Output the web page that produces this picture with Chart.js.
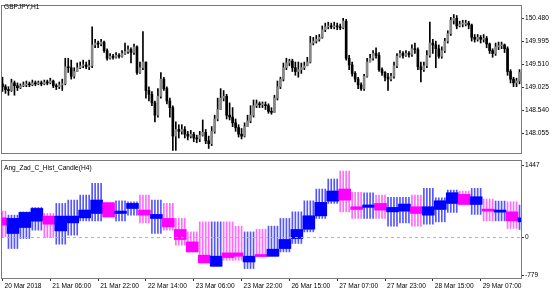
<!DOCTYPE html>
<html>
<head>
<meta charset="utf-8">
<script src="https://cdn.jsdelivr.net/npm/chart.js@4.4.0/dist/chart.umd.min.js"></script>
<style>
  body { margin:0; background:#fff; }
  #wrap { position:relative; width:560px; height:294px; overflow:hidden; }
  canvas { position:absolute; left:0; }
  .ttl { position:absolute; left:4px; font:6.6px 'Liberation Sans', Arial, sans-serif; line-height:8px; color:#000; z-index:2; }
</style>
</head>
<body>
<div id="wrap">
  <canvas id="price" width="560" height="158" style="top:0;width:560px;height:158px"></canvas>
  <canvas id="osc" width="560" height="136" style="top:158px;width:560px;height:136px"></canvas>
  <div class="ttl" style="top:3px">GBPJPY,H1</div>
  <div class="ttl" style="top:164px">Ang_Zad_C_Hist_Candle(H4)</div>
</div>
<script>
// GBPJPY H1, 20 Mar 14:00 -> 29 Mar 20:00
const tickLabels = ['20 Mar 2018','21 Mar 06:00','21 Mar 22:00','22 Mar 14:00','23 Mar 06:00','23 Mar 22:00',
  '26 Mar 15:00','27 Mar 07:00','27 Mar 23:00','28 Mar 15:00','29 Mar 07:00'];
const priceTicks = [148.055, 148.540, 149.025, 149.510, 149.995, 150.480];
const indTicks = [-779, 0, 1447];

const opens = [149.10,
  149.04,148.98,148.96,149.12,149.06,149.02,149.06,149.08,149.10,149.08,
  149.12,149.10,149.12,149.10,149.14,149.12,149.16,149.06,149.04,149.08,
  149.10,149.46,149.44,149.26,149.36,149.44,149.48,149.50,149.46,149.48,
  149.92,149.96,149.94,149.98,149.80,149.64,149.68,149.66,149.70,149.68,
  149.74,149.78,149.82,149.76,149.88,149.34,149.44,149.56,148.96,148.88,
  148.70,148.44,148.84,149.20,149.00,148.74,148.60,148.00,148.14,148.10,
  148.14,148.04,148.00,148.04,147.96,147.94,148.02,148.08,147.90,147.84,
  148.10,148.36,148.56,148.80,148.84,148.44,148.40,148.28,148.18,148.04,
  148.00,148.20,148.32,148.44,148.64,148.68,148.66,148.66,148.64,148.52,148.50,
  148.80,149.04,149.20,149.44,149.54,149.58,149.44,149.36,149.40,149.44,
  149.48,149.56,149.96,150.00,150.04,150.08,150.24,150.30,150.32,150.30,
  150.32,150.30,150.28,150.42,149.64,149.50,149.32,149.20,149.08,149.00,
  149.26,149.56,149.64,149.74,149.70,149.40,149.34,149.24,149.20,149.26,
  149.48,149.68,149.74,149.70,149.74,149.72,149.84,149.82,149.46,149.40,
  149.48,149.70,149.96,149.92,149.84,149.68,149.80,150.00,150.16,150.44,
  150.48,150.32,150.36,150.36,150.38,150.34,150.08,150.04,150.08,150.04,
  150.06,149.94,149.80,149.74,149.88,149.90,149.92,149.84,149.36,149.20,
  149.12,149.16];
const highs = [
  149.24,149.08,149.04,149.20,149.16,149.12,149.10,149.14,149.16,149.14,
  149.18,149.16,149.16,149.16,149.18,149.18,149.22,149.18,149.10,149.14,
  149.20,149.64,149.64,149.60,149.44,149.54,149.56,149.60,149.56,149.60,
  150.30,150.04,150.00,150.04,150.00,149.84,149.74,149.72,149.76,149.74,
  149.80,149.96,149.90,149.86,149.94,149.90,149.56,150.20,149.56,149.04,
  148.94,148.74,149.00,149.34,149.24,149.04,148.80,148.64,148.30,148.24,
  148.24,148.20,148.10,148.12,148.08,148.02,148.10,148.34,148.14,148.00,
  148.20,148.44,148.80,149.00,148.96,148.88,148.70,148.60,148.36,148.24,
  148.16,148.28,148.44,148.64,148.76,148.76,148.72,148.72,148.72,148.68,148.60,
  148.86,149.16,149.24,149.54,149.64,149.62,149.62,149.56,149.56,149.54,
  149.56,149.66,150.10,150.08,150.12,150.14,150.32,150.38,150.40,150.38,
  150.40,150.38,150.36,150.48,150.46,149.70,149.56,149.36,149.24,149.12,
  149.30,149.64,149.72,149.80,149.86,149.76,149.44,149.36,149.32,149.32,
  149.56,149.74,149.80,149.78,149.80,149.78,149.92,149.96,149.86,149.56,
  149.56,149.80,150.40,150.04,150.00,149.92,149.88,150.06,150.22,150.50,
  150.56,150.54,150.42,150.44,150.44,150.42,150.36,150.14,150.14,150.12,
  150.14,150.10,149.96,149.84,149.96,149.98,149.98,149.94,149.88,149.40,
  149.24,149.22,149.40];
const lows = [
  148.94,148.90,148.86,148.94,148.86,148.96,149.00,149.04,149.04,149.04,
  149.06,149.06,149.08,149.06,149.08,149.08,149.10,149.02,148.98,149.00,
  148.96,149.08,149.34,149.20,149.22,149.36,149.42,149.44,149.42,149.40,
  149.44,149.86,149.86,149.90,149.76,149.60,149.62,149.62,149.64,149.64,
  149.66,149.72,149.74,149.54,149.72,149.30,149.32,149.40,148.80,148.74,
  148.64,148.30,148.40,148.80,148.96,148.68,148.40,147.70,147.70,147.96,
  148.04,147.96,147.92,147.96,147.88,147.86,147.88,148.00,147.84,147.74,
  147.80,148.06,148.32,148.56,148.74,148.36,148.34,148.20,148.10,147.98,
  147.94,147.98,148.20,148.28,148.40,148.60,148.60,148.60,148.56,148.48,148.46,
  148.50,148.76,149.00,149.16,149.40,149.48,149.36,149.28,149.24,149.32,
  149.40,149.48,149.54,149.92,149.96,150.00,150.06,150.20,150.26,150.26,
  150.26,150.24,150.24,150.26,149.60,149.40,149.26,149.14,149.00,148.96,
  148.96,149.24,149.56,149.60,149.64,149.36,149.28,149.16,148.96,149.16,
  149.22,149.44,149.66,149.64,149.68,149.66,149.68,149.74,149.40,149.14,
  149.36,149.44,149.66,149.74,149.44,149.64,149.64,149.76,149.96,150.12,
  150.36,150.26,150.30,150.30,150.32,150.26,150.00,149.98,150.00,149.96,
  149.98,149.86,149.74,149.66,149.70,149.82,149.84,149.76,149.28,149.12,
  149.04,149.04,149.10];
const closes = [
  149.04,148.98,148.96,149.12,149.06,149.02,149.06,149.08,149.10,149.08,
  149.12,149.10,149.12,149.10,149.14,149.12,149.16,149.06,149.04,149.08,
  149.10,149.46,149.44,149.26,149.36,149.44,149.48,149.50,149.46,149.48,
  149.92,149.96,149.94,149.98,149.80,149.64,149.68,149.66,149.70,149.68,
  149.74,149.78,149.82,149.76,149.88,149.34,149.44,149.56,148.96,148.88,
  148.70,148.44,148.84,149.20,149.00,148.74,148.60,148.00,148.14,148.10,
  148.14,148.04,148.00,148.04,147.96,147.94,148.02,148.08,147.90,147.84,
  148.10,148.36,148.56,148.80,148.84,148.44,148.40,148.28,148.18,148.04,
  148.00,148.20,148.32,148.44,148.64,148.68,148.66,148.66,148.64,148.52,148.50,
  148.80,149.04,149.20,149.44,149.54,149.58,149.44,149.36,149.40,149.44,
  149.48,149.56,149.96,150.00,150.04,150.08,150.24,150.30,150.32,150.30,
  150.32,150.30,150.28,150.42,149.64,149.50,149.32,149.20,149.08,149.00,
  149.26,149.56,149.64,149.74,149.70,149.40,149.34,149.24,149.20,149.26,
  149.48,149.68,149.74,149.70,149.74,149.72,149.84,149.82,149.46,149.40,
  149.48,149.70,149.96,149.92,149.84,149.68,149.80,150.00,150.16,150.44,
  150.48,150.32,150.36,150.36,150.38,150.34,150.08,150.04,150.08,150.04,
  150.06,149.94,149.80,149.74,149.88,149.90,149.92,149.84,149.36,149.20,
  149.12,149.16,149.34];

// Ang_Zad_C_Hist_Candle on H4: one candle per H4 period, h4Bars = H1 bars covered
const h4Bars  = [2, 4,4,4,4,4,4,4,4,4,4,4,4,4,4,4,4,4,4,4, 3,
  4,4,4,4,4,4,4,4,4,4,4,4,4,4,4,4,4,4,4,4,4,4,4, 1];
const h4Open  = [356,61,174,294,388,110,261,356,439,640,439,533,502,345,345,136,-98,-349,-557,-306,-306,-476,-336,
  -368,-223,-34,142,394,672,899,564,555,628,469,483,564,407,515,628,798,609,520,464,469,280];
const h4High  = [483,407,469,552,439,628,691,785,1006,650,677,659,785,691,628,345,91,280,280,280,199,91,142,
  199,345,469,677,899,1088,1239,836,829,785,742,742,785,912,734,880,861,912,710,672,659,596];
const h4Low   = [-3,-223,-34,123,-15,-141,29,299,299,370,299,407,261,61,123,-160,-287,-495,-557,-444,-444,-601,-368,
  -368,-287,-128,91,345,628,469,345,345,345,199,261,199,237,280,458,609,420,299,299,155,136];
const h4Close = [218,345,458,533,237,388,388,502,691,375,483,628,407,420,186,-53,-287,-495,-368,-393,-368,-368,-368,
  -236,-53,136,394,647,861,691,515,598,502,552,615,439,564,677,829,609,753,483,502,299,356];

const FONT = { family:"'Liberation Sans', Arial, sans-serif", size:6.6 };
const TXT = '#000';
const barIdx = opens.map((_, i) => i);

const barGroup = [];
h4Bars.forEach((n, g) => { for (let k = 0; k < n; k++) barGroup.push(g); });
const isUp = g => h4Close[g] >= h4Open[g];

const frame = {
  id:'frame',
  afterDraw(chart){
    const { ctx, chartArea:a } = chart;
    ctx.save();
    if(chart.options.zeroLine){
      const y = Math.round(chart.scales.y.getPixelForValue(0)) + 0.5;
      ctx.strokeStyle = '#b4b4b4'; ctx.setLineDash([3,3]);
      ctx.beginPath(); ctx.moveTo(a.left, y); ctx.lineTo(a.right, y); ctx.stroke();
      ctx.setLineDash([]);
      // right scale labels kept inside the pane, like the terminal does
      ctx.font = `${FONT.size}px ${FONT.family}`; ctx.fillStyle = TXT; ctx.textBaseline = 'middle';
      ctx.strokeStyle = '#333';
      indTicks.forEach(v => {
        let py = chart.scales.y.getPixelForValue(v);
        if(v === indTicks[indTicks.length-1]) py += 5;
        if(v === indTicks[0]) py -= 3;
        py = Math.round(py) + 0.5;
        ctx.beginPath(); ctx.moveTo(a.right, py); ctx.lineTo(a.right + 3, py); ctx.stroke();
        ctx.fillText(String(v), a.right + 4, py);
      });
    }
    ctx.strokeStyle = '#7a7a7a'; ctx.lineWidth = 1;
    ctx.strokeRect(Math.round(a.left) + 0.5, Math.round(a.top) + 0.5, Math.round(a.right - a.left), Math.round(a.bottom - a.top));
    ctx.restore();
  }
};

new Chart(document.getElementById('price'), {
  type:'bar',
  data:{
    labels: barIdx,
    datasets:[
      { data: lows.map((l, i) => [l, highs[i]]), backgroundColor:'#000', barThickness:1, grouped:false, order:2 },
      { data: opens.map((o, i) => [o, closes[i]]), backgroundColor: opens.map((o, i) => closes[i] >= o ? '#888' : '#000'),
        barThickness:2, minBarLength:1, grouped:false, order:1 }
    ]
  },
  options:{
    responsive:false, animation:false,
    plugins:{ legend:{ display:false }, tooltip:{ enabled:false } },
    layout:{ padding:{ top:2, left:1, right:0, bottom:1 } },
    scales:{
      x:{ display:false, offset:true },
      y:{ position:'right', min:147.643, max:150.762,
        afterFit: s => { s.width = 39; },
        afterBuildTicks: s => { s.ticks = priceTicks.map(v => ({ value:v })); },
        ticks:{ font:FONT, color:TXT, padding:1, callback: v => v.toFixed(3) },
        grid:{ drawOnChartArea:false, tickLength:3, color:'#333' },
        border:{ display:false } }
    }
  },
  plugins:[frame]
});

new Chart(document.getElementById('osc'), {
  type:'bar',
  data:{
    labels: barIdx,
    datasets:[
      { data: barGroup.map(g => [h4Low[g], h4High[g]]), backgroundColor: barGroup.map(g => isUp(g) ? '#5656ff' : '#ff6cff'),
        barThickness:1, grouped:false, order:2 },
      { data: barGroup.map(g => [h4Open[g], h4Close[g]]), backgroundColor: barGroup.map(g => isUp(g) ? '#0000ff' : '#ff00ff'),
        barThickness:3, minBarLength:2, grouped:false, order:1 }
    ]
  },
  options:{
    responsive:false, animation:false, zeroLine:true,
    plugins:{ legend:{ display:false }, tooltip:{ enabled:false } },
    layout:{ padding:{ top:2, left:1, right:0, bottom:0 } },
    scales:{
      x:{ offset:true,
        afterFit: s => { s.height = 16; },
        afterBuildTicks: s => { s.ticks = s.ticks.filter(t => t.value % 16 === 0); },
        ticks:{ autoSkip:false, maxRotation:0, align:'start', labelOffset:2, padding:1, font:FONT, color:TXT,
          callback: v => tickLabels[v / 16] },
        grid:{ drawOnChartArea:false, offset:false, tickLength:3, color:'#333' },
        border:{ display:false } },
      y:{ position:'right', min:indTicks[0], max:indTicks[2],
        afterFit: s => { s.width = 39; },
        afterBuildTicks: s => { s.ticks = indTicks.map(v => ({ value:v })); },
        ticks:{ display:false },
        grid:{ drawOnChartArea:false, drawTicks:false },
        border:{ display:false } }
    }
  },
  plugins:[frame]
});
</script>
</body>
</html>
